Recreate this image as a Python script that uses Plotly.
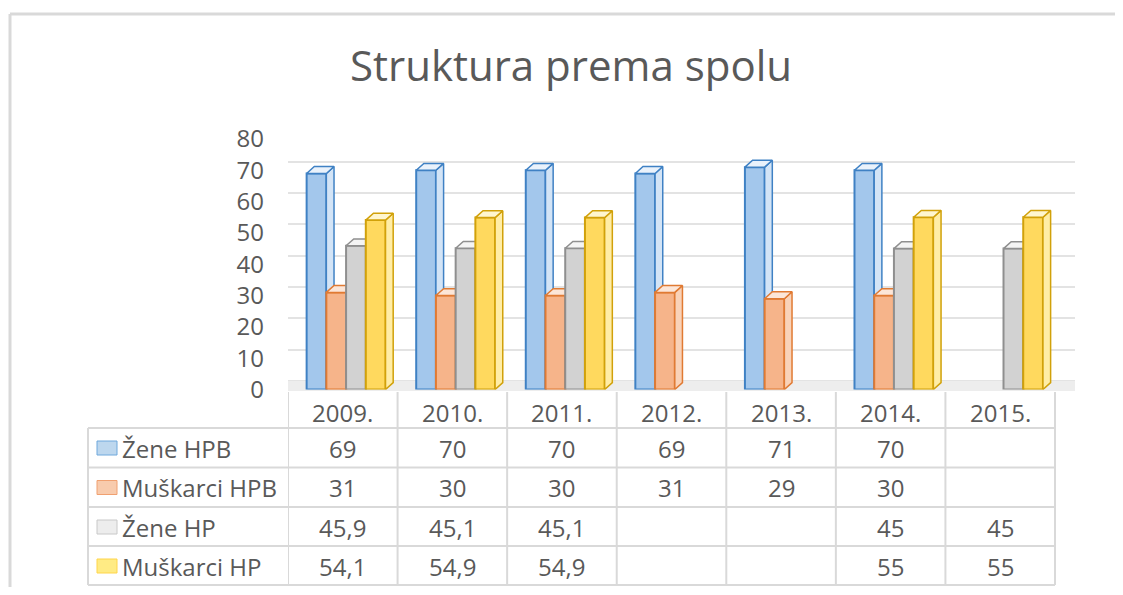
import plotly.graph_objects as go

# ---------------- data ----------------
years = ["2009.", "2010.", "2011.", "2012.", "2013.", "2014.", "2015."]
series_names = ["Žene HPB", "Muškarci HPB", "Žene HP", "Muškarci HP"]
zene_hpb = [69, 70, 70, 69, 71, 70, None]
muskarci_hpb = [31, 30, 30, 31, 29, 30, None]
zene_hp = [45.9, 45.1, 45.1, None, None, 45, 45]
muskarci_hp = [54.1, 54.9, 54.9, None, None, 55, 55]
y_ticks = [0, 10, 20, 30, 40, 50, 60, 70, 80]

series_values = [zene_hpb, muskarci_hpb, zene_hp, muskarci_hp]

# ---------------- style ----------------
PAGE_W, PAGE_H = 1123, 595
BODY = 8                      # default html body margin
W, H = PAGE_W - 2 * BODY, PAGE_H - 2 * BODY
FONT = "Open Sans"
TXT = "#595959"
TABLE_LINE = "#D9D9D9"
GRID = "#E3E3E3"
front_fill = ["#A3C7EC", "#F6B48A", "#D2D2D2", "#FFD95E"]
side_fill = ["#D3E4F6", "#F9D2B8", "#E8E8E8", "#FFEDA6"]
top_fill = ["#EAF2FB", "#FCE6D8", "#F4F4F4", "#FFF6CF"]
edge = ["#3F81C4", "#E07A33", "#8F8F8F", "#D1A10A"]
key_fill = ["#BDD7EE", "#F8CBAD", "#EDEDED", "#FFEB84"]
key_edge = ["#6FA8DC", "#F0A070", "#C8C8C8", "#FFD54A"]


def px_x(p):
    return (p - BODY) / W


def px_y(p):
    return 1 - (p - BODY) / H


CAT_PX = 109.6
x_range = [-0.5, 6.5 + 20 / CAT_PX]
x_dom = [px_x(288), px_x(1075)]
FLOOR_DEPTH = 3.2                          # value units below the back wall
grid_dom = [px_y(391), px_y(130.5)]        # back wall gridlines + floor
bar_dom = [px_y(389.5), px_y(139)]         # front faces of the columns

bar_w = 0.18
offsets = [-0.33, -0.15, 0.03, 0.21]
dx = 0.07      # depth in category units
dy = 2.2       # depth in value units


def fmt(v):
    if v is None:
        return ""
    if float(v).is_integer():
        return str(int(v))
    return str(v).replace(".", ",")


fig = go.Figure()
idx = list(range(len(years)))

# 3D floor of the chart (on the back-wall axis, drawn first)
fig.add_trace(go.Scatter(
    x=[x_range[0], x_range[1], x_range[1], x_range[0], x_range[0]],
    y=[-FLOOR_DEPTH, -FLOOR_DEPTH, 0, 0, -FLOOR_DEPTH],
    yaxis="y", mode="lines", fill="toself", fillcolor="#EDEDED",
    line=dict(width=0), showlegend=False, hoverinfo="skip"))

yaxes = ["y2", "y3", "y4", "y5"]
for k, vals in enumerate(series_values):
    ya = yaxes[k]
    fig.add_trace(go.Bar(
        x=idx, y=vals, width=bar_w, offset=offsets[k], yaxis=ya,
        marker=dict(color=front_fill[k], line=dict(color=edge[k], width=2)),
        name=series_names[k], showlegend=False, hoverinfo="skip"))
    sx, sy, tx, ty = [], [], [], []
    for i, v in enumerate(vals):
        if v is None:
            continue
        x0 = i + offsets[k]
        x1 = x0 + bar_w
        sx += [x1, x1 + dx, x1 + dx, x1, x1, None]
        sy += [0, dy, v + dy, v, 0, None]
        tx += [x0, x0 + dx, x1 + dx, x1, x0, None]
        ty += [v, v + dy, v + dy, v, v, None]
    fig.add_trace(go.Scatter(x=sx, y=sy, yaxis=ya, mode="lines", fill="toself",
                             fillcolor=side_fill[k], line=dict(color=edge[k], width=1.5),
                             showlegend=False, hoverinfo="skip"))
    fig.add_trace(go.Scatter(x=tx, y=ty, yaxis=ya, mode="lines", fill="toself",
                             fillcolor=top_fill[k], line=dict(color=edge[k], width=1.5),
                             showlegend=False, hoverinfo="skip"))

shapes = []
annotations = []

# chart border
shapes.append(dict(type="line", xref="paper", yref="paper", x0=px_x(10), x1=px_x(PAGE_W),
                   y0=px_y(14), y1=px_y(14), line=dict(color="#D9D9D9", width=3)))
shapes.append(dict(type="line", xref="paper", yref="paper", x0=px_x(10), x1=px_x(10),
                   y0=px_y(14), y1=px_y(PAGE_H), line=dict(color="#D9D9D9", width=3)))

# data table grid
row_lines = [428, 467.5, 507, 546, 585]
for r in row_lines:
    shapes.append(dict(type="line", xref="paper", yref="paper", x0=px_x(88), x1=px_x(1055),
                       y0=px_y(r), y1=px_y(r), line=dict(color=TABLE_LINE, width=2)))
for b in range(len(years) + 1):
    shapes.append(dict(type="line", xref="x", yref="paper", x0=b - 0.5, x1=b - 0.5,
                       y0=px_y(392), y1=px_y(585), line=dict(color=TABLE_LINE, width=2)))
shapes.append(dict(type="line", xref="paper", yref="paper", x0=px_x(88), x1=px_x(88),
                   y0=px_y(428), y1=px_y(585), line=dict(color=TABLE_LINE, width=2)))

cell_font = dict(family=FONT, size=24, color=TXT)

# header (years)
for i, yr in enumerate(years):
    annotations.append(dict(x=i, y=px_y(412), xref="x", yref="paper", text=yr,
                            xanchor="center", yanchor="middle",
                            showarrow=False, font=cell_font))

row_centers = [448, 487.5, 527, 566]
for k, vals in enumerate(series_values):
    yc = row_centers[k]
    shapes.append(dict(type="rect", xref="paper", yref="paper",
                       x0=px_x(97), x1=px_x(117), y0=px_y(yc + 7), y1=px_y(yc - 7),
                       fillcolor=key_fill[k], line=dict(color=key_edge[k], width=1)))
    annotations.append(dict(x=px_x(120), y=px_y(yc), xref="paper", yref="paper",
                            text=series_names[k], xanchor="left", yanchor="middle",
                            showarrow=False, font=cell_font))
    for i, v in enumerate(vals):
        if v is None:
            continue
        annotations.append(dict(x=i, y=px_y(yc), xref="x", yref="paper", text=fmt(v),
                                xanchor="center", yanchor="middle",
                                showarrow=False, font=cell_font))

hidden = dict(range=[0, 80], visible=False)
fig.update_layout(
    width=W, height=H,
    margin=dict(l=0, r=0, t=0, b=0, autoexpand=False),
    paper_bgcolor="white", plot_bgcolor="rgba(0,0,0,0)",
    barmode="overlay",
    title=dict(text="Struktura prema spolu", x=px_x(571), xanchor="center", y=px_y(66),
               yanchor="middle", font=dict(family=FONT, size=42, color=TXT)),
    xaxis=dict(domain=x_dom, range=x_range, showgrid=False, zeroline=False,
               showticklabels=False, ticks="", showline=False, fixedrange=True),
    # back-wall gridlines and floor
    yaxis=dict(range=[-FLOOR_DEPTH, 80], domain=grid_dom, tickvals=y_ticks, showgrid=True,
               gridcolor=GRID, gridwidth=1.5, zeroline=False, showline=False, ticks="",
               showticklabels=False),
    # columns + value labels
    yaxis2=dict(range=[0, 80], domain=bar_dom, anchor="x", tickvals=y_ticks,
                showgrid=False, zeroline=False, showline=False, ticks="",
                ticklabelstandoff=23, tickfont=dict(family=FONT, size=24, color=TXT)),
    yaxis3=dict(hidden, overlaying="y2"),
    yaxis4=dict(hidden, overlaying="y2"),
    yaxis5=dict(hidden, overlaying="y2"),
    shapes=shapes, annotations=annotations,
)

fig.write_html("out.html")
